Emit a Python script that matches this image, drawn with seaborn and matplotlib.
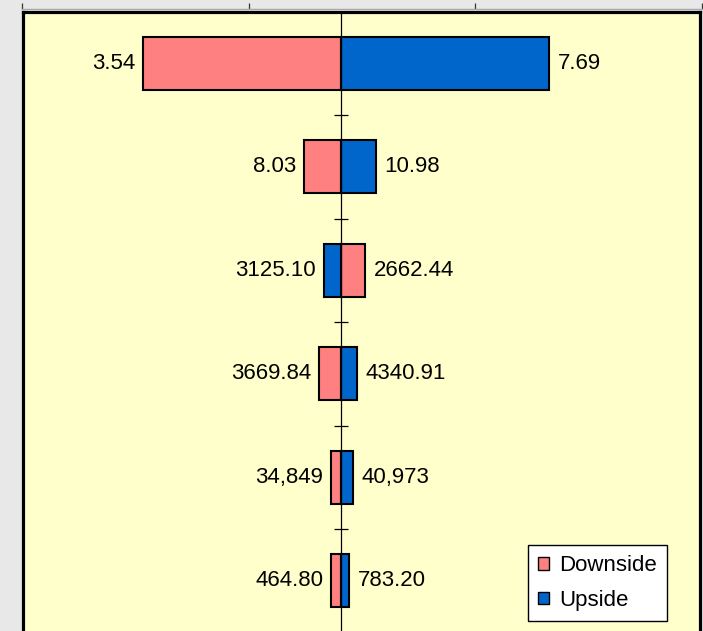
import matplotlib
matplotlib.use("Agg")
import matplotlib.pyplot as plt
import seaborn as sns
import pandas as pd
from matplotlib.patches import Patch

# ---- data ----
factors = ["F1", "F2", "F3", "F4", "F5", "F6"]
downside_dev = [-1.98, -0.37, 0.24, -0.22, -0.10, -0.10]
upside_dev = [2.08, 0.35, -0.17, 0.16, 0.12, 0.08]
downside_labels = ["3.54", "8.03", "2662.44", "3669.84", "34,849", "464.80"]
upside_labels = ["7.69", "10.98", "3125.10", "4340.91", "40,973", "783.20"]
series_names = ["Downside", "Upside"]
top_ticks = [0, 1, 2, 3]

pink = "#ff8080"
blue = "#0066cc"

sns.set_theme(style="white")
plt.rcParams["font.family"] = ["Liberation Sans", "DejaVu Sans"]
plt.rcParams["text.color"] = "black"

W, H = 703, 631
fig = plt.figure(figsize=(W / 100, H / 100), dpi=100)
fig.patch.set_facecolor("#e8e8e8")

left_px, right_px, top_px, bot_px = 22.5, 700.0, 11.5, 632.5
ax = fig.add_axes([left_px / W, 1 - bot_px / H, (right_px - left_px) / W, (bot_px - top_px) / H])
ax.set_facecolor("#ffffcc")

df = pd.DataFrame({
    "factor": factors * 2,
    "series": [series_names[0]] * len(factors) + [series_names[1]] * len(factors),
    "value": downside_dev + upside_dev,
})

sns.barplot(data=df, y="factor", x="value", hue="series", dodge=False, orient="h",
            palette={"Downside": pink, "Upside": blue}, width=0.51,
            edgecolor="black", linewidth=1.5, saturation=1, ax=ax, legend=False)

center = 341.0
ax.set_xlim((left_px - center) / 100, (right_px - center) / 100)
ax.set_ylim(len(factors) - 0.5, -0.5)

# value labels at bar ends
for i in range(len(factors)):
    for dev, lab in ((downside_dev[i], downside_labels[i]), (upside_dev[i], upside_labels[i])):
        if dev < 0:
            ax.annotate(lab, (dev, i), xytext=(-5.6, 0), textcoords="offset points",
                        ha="right", va="center", fontsize=16, color="black")
        else:
            ax.annotate(lab, (dev, i), xytext=(6.2, 0), textcoords="offset points",
                        ha="left", va="center", fontsize=16, color="black")

# center axis line with crossing ticks
ax.axvline(0, color="black", linewidth=0.9, zorder=1)
bounds = [k + 0.5 for k in range(len(factors) - 1)]
ax.plot([0] * len(bounds), bounds, linestyle="none", marker="_", markersize=10,
        markeredgewidth=0.9, color="black", zorder=1)

ax.set_xticks([])
ax.set_yticks([])
ax.set_xlabel("")
ax.set_ylabel("")
for side in ["left", "top", "right", "bottom"]:
    ax.spines[side].set_visible(True)
    ax.spines[side].set_color("black")
    ax.spines[side].set_linewidth(2.3)

# legend
handles = [Patch(facecolor=pink, edgecolor="black", linewidth=1.0),
           Patch(facecolor=blue, edgecolor="black", linewidth=1.0)]
leg = ax.legend(handles, series_names, loc="lower right", bbox_to_anchor=(0.951, 0.0185),
                fontsize=16, frameon=True, fancybox=False, framealpha=1,
                edgecolor="black", handlelength=0.5, handleheight=0.5, handletextpad=0.45,
                borderpad=0.45, labelspacing=0.62, borderaxespad=0, labelcolor="black")
leg.get_frame().set_linewidth(1.0)
leg.get_frame().set_facecolor("white")

# top secondary axis line
ax2 = fig.add_axes([22 / W, 1 - 9 / H, (702 - 22) / W, 0.0001])
ax2.patch.set_visible(False)
for side in ["left", "right", "bottom"]:
    ax2.spines[side].set_visible(False)
ax2.spines["top"].set_color("#a8a8a8")
ax2.spines["top"].set_linewidth(1.0)
ax2.set_xlim(top_ticks[0], top_ticks[-1])
ax2.set_yticks([])
ax2.xaxis.set_ticks_position("top")
ax2.set_xticks(top_ticks)
ax2.tick_params(axis="x", direction="out", length=4, width=0.9, color="#333333",
                labeltop=False, labelbottom=False)

fig.savefig("out.png", dpi=100, facecolor=fig.get_facecolor())
